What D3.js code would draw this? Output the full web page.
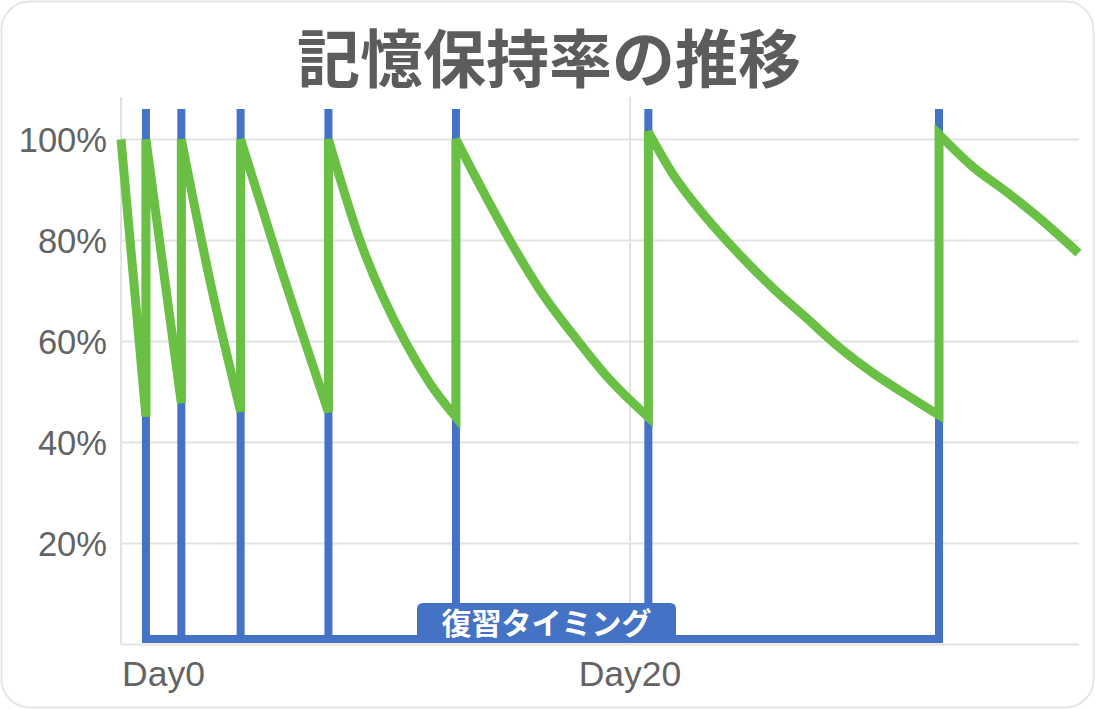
<!DOCTYPE html>
<html>
<head>
<meta charset="utf-8">
<script src="https://cdn.jsdelivr.net/npm/d3@7"></script>
<style>
  html, body { margin: 0; padding: 0; background: #fff; }
  svg { display: block; }
</style>
</head>
<body>
<div id="chart"></div>
<script>
// chart values
const titleText = "記憶保持率の推移";
const labelText = "復習タイミング";

const xTicks = [0, 20];
const xTickLabels = ["Day0", "Day20"];
const yTicks = [20, 40, 60, 80, 100];

// review timings (days)
const reviewDays = [0.98, 2.37, 4.70, 8.15, 13.16, 20.72, 32.14];
const reviewHigh = 106;
const reviewLow = 1.1;

// retention curve (days, %)
const retentionDays = [
    0, 0.98,
    0.98, 2.37,
    2.37, 3.54, 4.70,
    4.70, 6.25, 8.15,
    8.15, 9.39, 11.16, 12.14, 13.16,
    13.16, 14.24, 15.28, 16.46, 17.97, 19.21, 20.72,
    20.72, 21.70, 23.01, 24.32, 25.63, 26.94, 28.25, 29.56, 30.87, 32.14,
    32.14, 33.49, 34.80, 36.11, 37.62
];
const retentionValues = [
    100, 45.1,
    100, 47.8,
    100, 71, 46.1,
    100, 75, 46,
    100, 80, 60, 51.7, 45,
    100, 89.6, 80, 70.2, 60, 52.4, 45,
    101.5, 93, 84.4, 77.1, 70.5, 64.6, 58.7, 53.7, 49.4, 45.4,
    101, 94.5, 89.6, 84.3, 77.5
];

const width = 1095, height = 709;
const plotLeft = 121, plotRight = 1079, plotTop = 97, plotBottom = 644.5;

const svg = d3.select("#chart").append("svg")
    .attr("width", width)
    .attr("height", height);

// card
svg.append("rect")
    .attr("x", 1.5).attr("y", 1.5)
    .attr("width", width - 3).attr("height", height - 3)
    .attr("rx", 28)
    .attr("fill", "#fff")
    .attr("stroke", "#e6e6e6")
    .attr("stroke-width", 2);

// title
svg.append("text")
    .attr("x", 549).attr("y", 82)
    .attr("text-anchor", "middle")
    .attr("font-family", "'Noto Sans CJK JP', sans-serif")
    .attr("font-weight", 700)
    .attr("font-size", 63)
    .attr("fill", "#5c5c5c")
    .text(titleText);

let x = d3.scaleLinear().domain([0, 37.64]).range([plotLeft, plotRight]);
let y = d3.scaleLinear().domain([0, 108.4]).range([plotBottom, plotTop]);

// gridlines
let grid = svg.append("g");
grid.selectAll("line.h")
    .data([0, ...yTicks])
    .join("line")
    .attr("class", "h")
    .attr("x1", plotLeft).attr("x2", plotRight)
    .attr("y1", d => y(d)).attr("y2", d => y(d))
    .attr("stroke", "#e3e3e3")
    .attr("stroke-width", 2);
grid.selectAll("line.v")
    .data(xTicks)
    .join("line")
    .attr("class", "v")
    .attr("x1", d => x(d)).attr("x2", d => x(d))
    .attr("y1", plotTop).attr("y2", plotBottom)
    .attr("stroke", "#e3e3e3")
    .attr("stroke-width", 2);

// y tick labels
svg.append("g").selectAll("text")
    .data(yTicks)
    .join("text")
    .attr("x", 107)
    .attr("y", d => y(d))
    .attr("dy", "0.36em")
    .attr("text-anchor", "end")
    .attr("font-family", "'Liberation Sans', Arial, sans-serif")
    .attr("font-size", 34.5)
    .attr("fill", "#636363")
    .text(d => d + "%");

// x tick labels
svg.append("g").selectAll("text")
    .data(xTicks)
    .join("text")
    .attr("x", (d, i) => i === 0 ? x(d) + 1 : x(d))
    .attr("y", 686)
    .attr("text-anchor", (d, i) => i === 0 ? "start" : "middle")
    .attr("font-family", "'Liberation Sans', Arial, sans-serif")
    .attr("font-size", 35.5)
    .attr("fill", "#636363")
    .text((d, i) => xTickLabels[i]);

// review timings comb
let reviewPts = [];
reviewDays.forEach(d => {
    reviewPts.push([d, reviewLow], [d, reviewHigh], [d, reviewLow]);
});
let line = d3.line().x(d => x(d[0])).y(d => y(d[1]));

svg.append("path")
    .attr("d", line(reviewPts))
    .attr("fill", "none")
    .attr("stroke", "#4472c4")
    .attr("stroke-width", 8)
    .attr("stroke-linejoin", "miter");

// label box on the comb
let bx0 = 417, bx1 = 676, by0 = 603, by1 = 642, r = 6;
svg.append("path")
    .attr("d", `M${bx0},${by1} L${bx0},${by0 + r} Q${bx0},${by0} ${bx0 + r},${by0} L${bx1 - r},${by0} Q${bx1},${by0} ${bx1},${by0 + r} L${bx1},${by1} Z`)
    .attr("fill", "#4472c4");
svg.append("text")
    .attr("x", (bx0 + bx1) / 2)
    .attr("y", 634)
    .attr("text-anchor", "middle")
    .attr("font-family", "'Noto Sans CJK JP', sans-serif")
    .attr("font-weight", 700)
    .attr("font-size", 30)
    .attr("fill", "#fff")
    .text(labelText);

// retention curve: smooth each decay, jump straight up at every review
let pts = retentionDays.map((d, i) => [d, retentionValues[i]]);
let segments = [[pts[0]]];
for (let i = 1; i < pts.length; i++) {
    if (pts[i][0] === pts[i - 1][0]) segments.push([]);
    segments[segments.length - 1].push(pts[i]);
}
let smooth = d3.line().x(d => x(d[0])).y(d => y(d[1])).curve(d3.curveMonotoneX);
let dPath = segments.map((s, i) => {
    let p = smooth(s);
    return i === 0 ? p : "L" + p.slice(1);
}).join("");

svg.append("path")
    .attr("d", dPath)
    .attr("fill", "none")
    .attr("stroke", "#6abf45")
    .attr("stroke-width", 9);
</script>
</body>
</html>
